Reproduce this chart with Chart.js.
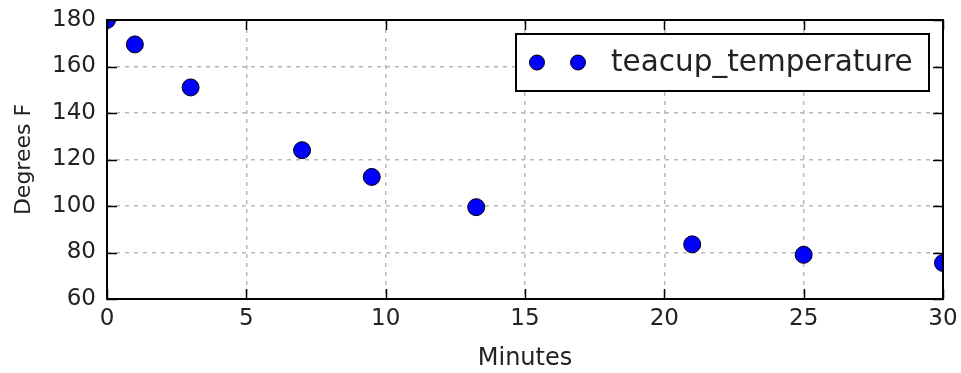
<!DOCTYPE html>
<html>
<head>
<meta charset="utf-8">
<script src="https://cdn.jsdelivr.net/npm/chart.js@4/dist/chart.umd.min.js"></script>
<style>
  html, body { margin: 0; padding: 0; background: #fff; }
  #wrap { width: 961px; height: 373px; position: relative; }
</style>
</head>
<body>
<div id="wrap"><canvas id="chart"></canvas></div>
<script>
// teacup readings
const minutes = [0, 1, 3, 7, 9.5, 13.25, 21, 25, 30];
const degrees = [180, 169.5, 151, 124, 112.5, 99.5, 83.5, 79, 75.5];
const xTicks = [0, 5, 10, 15, 20, 25, 30];
const yTicks = [60, 80, 100, 120, 140, 160, 180];
const seriesName = 'teacup_temperature';

const FONT = '"DejaVu Sans", sans-serif';

// inward tick marks on all four sides, like the matplotlib classic style
const innerTicks = {
    id: 'innerTicks',
    afterDraw(chart) {
        const { ctx, chartArea: a, scales } = chart;
        const len = 10;
        ctx.save();
        ctx.strokeStyle = '#000';
        ctx.lineWidth = 1.5;
        ctx.beginPath();
        xTicks.forEach(v => {
            const x = Math.round(scales.x.getPixelForValue(v)) + 0.5;
            ctx.moveTo(x, a.bottom); ctx.lineTo(x, a.bottom - len);
            ctx.moveTo(x, a.top); ctx.lineTo(x, a.top + len);
        });
        yTicks.forEach(v => {
            const y = Math.round(scales.y.getPixelForValue(v)) + 0.5;
            ctx.moveTo(a.left, y); ctx.lineTo(a.left + len, y);
            ctx.moveTo(a.right, y); ctx.lineTo(a.right - len, y);
        });
        ctx.stroke();
        ctx.lineWidth = 2;
        ctx.strokeRect(a.left, a.top, a.right - a.left, a.bottom - a.top);
        ctx.restore();
    }
};

// boxed legend with two markers per entry
const boxLegend = {
    id: 'boxLegend',
    afterDraw(chart) {
        const { ctx, chartArea: a } = chart;
        const right = a.right - 14, top = a.top + 14;
        const w = 413, h = 57;
        const left = right - w;
        ctx.save();
        ctx.fillStyle = '#fff';
        ctx.fillRect(left, top, w, h);
        ctx.strokeStyle = '#000';
        ctx.lineWidth = 2;
        ctx.strokeRect(left, top, w, h);
        const cy = top + h / 2;
        [left + 21, left + 62].forEach(cx => {
            ctx.beginPath();
            ctx.arc(cx, cy, 7.5, 0, Math.PI * 2);
            ctx.fillStyle = '#0000ff';
            ctx.fill();
            ctx.lineWidth = 1;
            ctx.strokeStyle = '#000';
            ctx.stroke();
        });
        ctx.fillStyle = '#222';
        ctx.font = '29.5px ' + FONT;
        ctx.textBaseline = 'middle';
        ctx.fillText(seriesName, left + 95, cy + 1);
        ctx.restore();
    }
};

const gridStyle = {
    color: '#b8b8b8',
    lineWidth: 1.5,
    drawTicks: false
};

new Chart(document.getElementById('chart'), {
    type: 'scatter',
    data: {
        datasets: [{
            label: seriesName,
            data: minutes.map((m, i) => ({ x: m, y: degrees[i] })),
            backgroundColor: '#0000ff',
            borderColor: '#000',
            borderWidth: 1,
            pointRadius: 8.5,
            pointHoverRadius: 8.5,
            clip: 0
        }]
    },
    options: {
        responsive: true,
        maintainAspectRatio: false,
        animation: false,
        events: [],
        layout: { padding: { top: 20, right: 18, left: 0, bottom: 0 } },
        plugins: {
            legend: { display: false },
            tooltip: { enabled: false }
        },
        scales: {
            x: {
                type: 'linear',
                min: 0, max: 30,
                afterBuildTicks: s => { s.ticks = xTicks.map(v => ({ value: v })); },
                afterFit: s => { s.height = 74; s.paddingLeft = 0; s.paddingRight = 0; },
                grid: gridStyle,
                border: { display: false, dash: [4, 5] },
                ticks: { color: '#222', font: { family: FONT, size: 23 }, padding: 6, maxRotation: 0 },
                title: { display: true, text: 'Minutes', color: '#222', font: { family: FONT, size: 24 }, padding: { top: 4, bottom: 0 } }
            },
            y: {
                type: 'linear',
                min: 60, max: 180,
                afterBuildTicks: s => { s.ticks = yTicks.map(v => ({ value: v })); },
                afterFit: s => { s.width = 107; s.paddingTop = 0; s.paddingBottom = 0; },
                grid: gridStyle,
                border: { display: false, dash: [4, 5] },
                ticks: { color: '#222', font: { family: FONT, size: 23 }, padding: 11 },
                title: { display: true, text: 'Degrees F', color: '#222', font: { family: FONT, size: 22 }, padding: { top: 11, bottom: 0 } }
            }
        }
    },
    plugins: [innerTicks, boxLegend]
});
</script>
</body>
</html>
